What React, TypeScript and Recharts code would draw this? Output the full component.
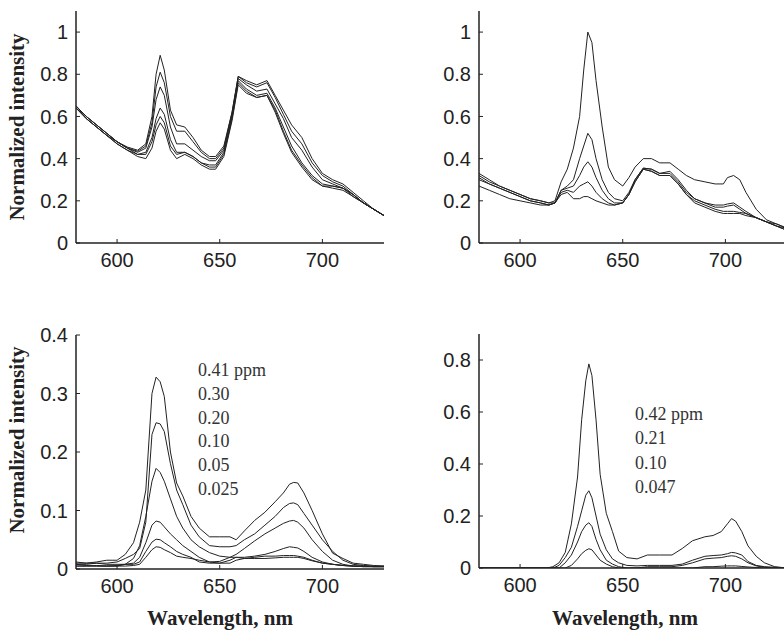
import React from "react";
import { LineChart, Line, XAxis, YAxis } from "recharts";

// wavelength grids (nm) for each panel
const WL_TL = [580, 585, 590, 595, 600, 605, 610, 614, 617, 619, 621, 623, 626, 629, 633, 637, 641, 645, 648, 652, 656, 659, 663, 668, 673, 677, 681, 685, 690, 695, 700, 705, 710, 715, 720, 725, 730];
const WL_TR = [580, 585, 590, 595, 600, 605, 610, 614, 617, 620, 623, 626, 629, 631, 633, 635, 637, 640, 643, 646, 650, 653, 656, 660, 664, 668, 673, 677, 681, 685, 690, 695, 699, 701, 704, 707, 710, 715, 720, 725, 730];
const WL_BL = [580, 585, 590, 595, 600, 604, 608, 611, 614, 617, 619, 621, 623, 626, 629, 632, 636, 640, 645, 650, 655, 658, 662, 667, 672, 677, 681, 684, 686, 688, 691, 695, 700, 705, 710, 715, 720, 725, 730];
const WL_BR = [580, 590, 600, 610, 613, 616, 619, 622, 625, 628, 630, 632, 633.5, 635, 637, 639, 642, 645, 648, 652, 657, 662, 668, 674, 679, 684, 690, 694, 698, 701, 703, 705, 708, 711, 715, 719, 724, 730];

// top-left spectra
const tl1 = [0.65, 0.6, 0.56, 0.52, 0.48, 0.455, 0.44, 0.47, 0.6, 0.8, 0.89, 0.82, 0.63, 0.56, 0.55, 0.5, 0.44, 0.41, 0.41, 0.46, 0.62, 0.79, 0.77, 0.75, 0.77, 0.7, 0.63, 0.56, 0.5, 0.4, 0.33, 0.3, 0.28, 0.24, 0.2, 0.16, 0.13];
const tl2 = [0.65, 0.6, 0.56, 0.52, 0.48, 0.45, 0.435, 0.46, 0.57, 0.74, 0.81, 0.76, 0.6, 0.53, 0.53, 0.48, 0.43, 0.4, 0.4, 0.45, 0.62, 0.79, 0.76, 0.74, 0.76, 0.69, 0.61, 0.53, 0.47, 0.38, 0.32, 0.29, 0.27, 0.23, 0.19, 0.16, 0.13];
const tl3 = [0.65, 0.6, 0.56, 0.52, 0.48, 0.45, 0.43, 0.45, 0.55, 0.68, 0.74, 0.7, 0.55, 0.47, 0.47, 0.44, 0.41, 0.39, 0.39, 0.44, 0.61, 0.78, 0.75, 0.72, 0.73, 0.66, 0.59, 0.5, 0.44, 0.36, 0.3, 0.28, 0.26, 0.23, 0.19, 0.16, 0.13];
const tl4 = [0.65, 0.59, 0.55, 0.51, 0.48, 0.45, 0.42, 0.43, 0.5, 0.59, 0.64, 0.61, 0.49, 0.43, 0.43, 0.41, 0.38, 0.37, 0.37, 0.43, 0.6, 0.77, 0.73, 0.7, 0.71, 0.64, 0.55, 0.46, 0.38, 0.32, 0.28, 0.27, 0.26, 0.23, 0.19, 0.16, 0.13];
const tl5 = [0.64, 0.59, 0.55, 0.51, 0.47, 0.44, 0.42, 0.42, 0.48, 0.56, 0.6, 0.57, 0.46, 0.42, 0.43, 0.41, 0.38, 0.36, 0.36, 0.42, 0.59, 0.76, 0.72, 0.69, 0.7, 0.63, 0.53, 0.44, 0.37, 0.31, 0.27, 0.27, 0.26, 0.22, 0.19, 0.16, 0.13];
const tl6 = [0.64, 0.59, 0.55, 0.51, 0.47, 0.44, 0.41, 0.4, 0.45, 0.53, 0.57, 0.54, 0.44, 0.4, 0.42, 0.4, 0.37, 0.35, 0.35, 0.41, 0.58, 0.75, 0.71, 0.69, 0.7, 0.62, 0.52, 0.43, 0.36, 0.3, 0.27, 0.26, 0.25, 0.22, 0.19, 0.16, 0.13];

// top-right spectra
const tr1 = [0.33, 0.3, 0.27, 0.25, 0.23, 0.21, 0.2, 0.19, 0.2, 0.29, 0.35, 0.45, 0.6, 0.82, 1.0, 0.95, 0.77, 0.55, 0.36, 0.3, 0.27, 0.31, 0.36, 0.4, 0.4, 0.38, 0.38, 0.35, 0.32, 0.3, 0.29, 0.28, 0.28, 0.31, 0.32, 0.3, 0.24, 0.16, 0.11, 0.09, 0.07];
const tr2 = [0.32, 0.29, 0.27, 0.25, 0.23, 0.21, 0.2, 0.19, 0.19, 0.25, 0.27, 0.3, 0.4, 0.46, 0.52, 0.49, 0.4, 0.3, 0.24, 0.21, 0.2, 0.24, 0.3, 0.355, 0.35, 0.33, 0.34, 0.3, 0.25, 0.21, 0.19, 0.18, 0.18, 0.185, 0.19, 0.17, 0.15, 0.12, 0.1, 0.09, 0.07];
const tr3 = [0.31, 0.28, 0.26, 0.24, 0.22, 0.2, 0.19, 0.18, 0.19, 0.25, 0.26, 0.27, 0.32, 0.36, 0.385, 0.36, 0.31, 0.25, 0.21, 0.19, 0.19, 0.23, 0.3, 0.355, 0.35, 0.33, 0.33, 0.29, 0.24, 0.21, 0.19, 0.17, 0.17, 0.175, 0.18, 0.16, 0.14, 0.12, 0.1, 0.08, 0.06];
const tr4 = [0.3, 0.28, 0.26, 0.24, 0.22, 0.2, 0.19, 0.18, 0.19, 0.24, 0.25, 0.24, 0.27, 0.28, 0.29, 0.27, 0.24, 0.21, 0.19, 0.18, 0.19, 0.23, 0.29, 0.35, 0.34, 0.32, 0.32, 0.28, 0.23, 0.2, 0.18, 0.16, 0.15, 0.15, 0.15, 0.145, 0.14, 0.12, 0.1, 0.08, 0.06];
const tr5 = [0.27, 0.25, 0.23, 0.21, 0.2, 0.19, 0.18, 0.18, 0.19, 0.23, 0.24, 0.21, 0.21, 0.22, 0.22, 0.21, 0.2, 0.19, 0.18, 0.18, 0.19, 0.23, 0.29, 0.35, 0.34, 0.32, 0.32, 0.28, 0.23, 0.19, 0.17, 0.15, 0.14, 0.14, 0.14, 0.14, 0.13, 0.12, 0.1, 0.08, 0.07];

// bottom-left spectra
const bl1 = [0.01, 0.01, 0.012, 0.015, 0.015, 0.025, 0.045, 0.08, 0.135, 0.3, 0.328, 0.32, 0.295, 0.2, 0.147, 0.125, 0.09, 0.07, 0.055, 0.055, 0.055, 0.05, 0.065, 0.083, 0.097, 0.115, 0.13, 0.145, 0.148, 0.147, 0.13, 0.1, 0.06, 0.027, 0.018, 0.01, 0.008, 0.006, 0.005];
const bl2 = [0.008, 0.008, 0.01, 0.01, 0.012, 0.018, 0.025, 0.035, 0.08, 0.23, 0.25, 0.248, 0.235, 0.18, 0.135, 0.11, 0.075, 0.055, 0.04, 0.038, 0.038, 0.04, 0.05, 0.06, 0.075, 0.09, 0.105, 0.112, 0.113, 0.11, 0.095, 0.075, 0.05, 0.03, 0.015, 0.008, 0.006, 0.005, 0.005];
const bl3 = [0.005, 0.005, 0.006, 0.005, 0.005, 0.008, 0.018, 0.04, 0.09, 0.15, 0.172, 0.165, 0.15, 0.12, 0.09, 0.07, 0.05, 0.038, 0.028, 0.022, 0.02, 0.025, 0.035, 0.048, 0.06, 0.07, 0.078, 0.082, 0.083, 0.08, 0.07, 0.05, 0.03, 0.015, 0.008, 0.005, 0.005, 0.004, 0.004];
const bl4 = [0.005, 0.005, 0.005, 0.005, 0.006, 0.008, 0.01, 0.02, 0.045, 0.075, 0.082, 0.08, 0.072, 0.06, 0.05, 0.04, 0.03, 0.02, 0.012, 0.01, 0.015, 0.02, 0.02, 0.022, 0.025, 0.03, 0.035, 0.038, 0.037, 0.036, 0.03, 0.02, 0.012, 0.008, 0.006, 0.005, 0.005, 0.004, 0.004];
const bl5 = [0.012, 0.01, 0.01, 0.008, 0.008, 0.008, 0.008, 0.012, 0.03, 0.046, 0.051, 0.05, 0.045, 0.038, 0.03, 0.025, 0.02, 0.012, 0.01, 0.01, 0.01, 0.015, 0.018, 0.02, 0.022, 0.022, 0.023, 0.023, 0.023, 0.022, 0.02, 0.015, 0.01, 0.008, 0.006, 0.005, 0.004, 0.004, 0.004];
const bl6 = [0.008, 0.006, 0.005, 0.005, 0.005, 0.005, 0.006, 0.008, 0.02, 0.033, 0.038, 0.037, 0.033, 0.028, 0.022, 0.02, 0.018, 0.015, 0.012, 0.013, 0.02, 0.02, 0.018, 0.018, 0.018, 0.019, 0.02, 0.02, 0.02, 0.02, 0.018, 0.014, 0.01, 0.008, 0.006, 0.005, 0.004, 0.004, 0.004];

// bottom-right spectra
const br1 = [0, 0, 0, 0, 0, 0.005, 0.02, 0.06, 0.17, 0.35, 0.57, 0.72, 0.785, 0.74, 0.57, 0.36, 0.21, 0.14, 0.065, 0.04, 0.035, 0.05, 0.05, 0.05, 0.075, 0.105, 0.12, 0.125, 0.14, 0.17, 0.19, 0.18, 0.14, 0.085, 0.045, 0.02, 0.005, 0];
const br2 = [0, 0, 0, 0, 0, 0, 0.01, 0.04, 0.08, 0.16, 0.22, 0.28, 0.297, 0.27, 0.2, 0.13, 0.07, 0.035, 0.02, 0.01, 0.008, 0.01, 0.01, 0.01, 0.015, 0.03, 0.045, 0.048, 0.05, 0.055, 0.06, 0.058, 0.05, 0.025, 0.01, 0.005, 0.003, 0];
const br3 = [0, 0, 0, 0, 0, 0, 0, 0.02, 0.05, 0.1, 0.14, 0.165, 0.174, 0.16, 0.11, 0.07, 0.03, 0.015, 0.005, 0, 0, 0.005, 0.005, 0.005, 0.01, 0.02, 0.035, 0.038, 0.04, 0.045, 0.047, 0.045, 0.035, 0.02, 0.008, 0.003, 0, 0];
const br4 = [0, 0, 0, 0, 0, 0, 0, 0, 0.01, 0.035, 0.055, 0.068, 0.074, 0.07, 0.05, 0.03, 0.015, 0.005, 0, 0, 0, 0, 0, 0, 0, 0, 0.005, 0.005, 0.007, 0.008, 0.008, 0.008, 0.006, 0.004, 0.002, 0, 0, 0];

const LABELS_BL = ["0.41 ppm", "0.30", "0.20", "0.10", "0.05", "0.025"];
const LABELS_BR = ["0.42 ppm", "0.21", "0.10", "0.047"];

const X_TICKS = [600, 650, 700];
const Y_TICKS_TOP = [0, 0.2, 0.4, 0.6, 0.8, 1];
const Y_TICKS_BL = [0, 0.1, 0.2, 0.3, 0.4];
const Y_TICKS_BR = [0, 0.2, 0.4, 0.6, 0.8];

const toRows = (wl: number[], series: number[][]) =>
  wl.map((w, i) => {
    const row: Record<string, number> = { w };
    series.forEach((s, k) => {
      row["s" + k] = s[i];
    });
    return row;
  });

const tickStyle = { fill: "#222", fontSize: 20, fontFamily: "Liberation Sans, Arial, sans-serif" };
const axisStyle = { stroke: "#222", strokeWidth: 1.5 };

type PanelProps = {
  left: number;
  top: number;
  width: number;
  height: number;
  margin: { top: number; right: number; bottom: number; left: number };
  wl: number[];
  series: number[][];
  yDomain: [number, number];
  yTicks: number[];
};

const Panel = ({ left, top, width, height, margin, wl, series, yDomain, yTicks }: PanelProps) => (
  <div style={{ position: "absolute", left, top }}>
    <LineChart width={width} height={height} data={toRows(wl, series)} margin={margin}>
      <XAxis
        type="number"
        dataKey="w"
        domain={[580, 730]}
        ticks={X_TICKS}
        interval={0}
        allowDataOverflow
        height={30}
        tick={tickStyle}
        tickSize={-4}
        tickMargin={14}
        axisLine={axisStyle}
        tickLine={{ stroke: "#222" }}
      />
      <YAxis
        type="number"
        domain={yDomain}
        ticks={yTicks}
        interval={0}
        allowDataOverflow
        width={60}
        tick={tickStyle}
        tickSize={-4}
        tickMargin={12}
        axisLine={axisStyle}
        tickLine={{ stroke: "#222" }}
      />
      {series.map((_, k) => (
        <Line
          key={k}
          dataKey={"s" + k}
          type="linear"
          stroke="#222"
          strokeWidth={1}
          dot={false}
          isAnimationActive={false}
        />
      ))}
    </LineChart>
  </div>
);

const serif = "Liberation Serif, Times New Roman, serif";

const App = () => {
  return (
    <div
      style={{
        position: "absolute",
        left: 0,
        top: 0,
        width: 784,
        height: 630,
        overflow: "hidden",
        background: "#fff",
      }}
    >
      <Panel
        left={0}
        top={0}
        width={392}
        height={300}
        margin={{ top: 11, right: 8, bottom: 27, left: 16 }}
        wl={WL_TL}
        series={[tl1, tl2, tl3, tl4, tl5, tl6]}
        yDomain={[0, 1.1]}
        yTicks={Y_TICKS_TOP}
      />
      <Panel
        left={392}
        top={0}
        width={400}
        height={300}
        margin={{ top: 11, right: 5, bottom: 27, left: 27 }}
        wl={WL_TR}
        series={[tr1, tr2, tr3, tr4, tr5]}
        yDomain={[0, 1.1]}
        yTicks={Y_TICKS_TOP}
      />
      <Panel
        left={0}
        top={300}
        width={392}
        height={330}
        margin={{ top: 35, right: 8, bottom: 31, left: 16 }}
        wl={WL_BL}
        series={[bl1, bl2, bl3, bl4, bl5, bl6]}
        yDomain={[0, 0.4]}
        yTicks={Y_TICKS_BL}
      />
      <Panel
        left={392}
        top={300}
        width={400}
        height={330}
        margin={{ top: 34, right: 5, bottom: 32, left: 27 }}
        wl={WL_BR}
        series={[br1, br2, br3, br4]}
        yDomain={[0, 0.9]}
        yTicks={Y_TICKS_BR}
      />
      <svg
        width={784}
        height={630}
        style={{ position: "absolute", left: 0, top: 0, pointerEvents: "none" }}
      >
        <text
          transform="translate(24,127) rotate(-90)"
          textAnchor="middle"
          fontFamily={serif}
          fontWeight="bold"
          fontSize={21}
          fill="#222"
        >
          Normalized intensity
        </text>
        <text
          transform="translate(24,440) rotate(-90)"
          textAnchor="middle"
          fontFamily={serif}
          fontWeight="bold"
          fontSize={21}
          fill="#222"
        >
          Normalized intensity
        </text>
        <text x={220} y={625} textAnchor="middle" fontFamily={serif} fontWeight="bold" fontSize={21} fill="#222">
          Wavelength, nm
        </text>
        <text x={625} y={625} textAnchor="middle" fontFamily={serif} fontWeight="bold" fontSize={21} fill="#222">
          Wavelength, nm
        </text>
        {LABELS_BL.map((t, i) => (
          <text key={t} x={198} y={376 + i * 23.8} fontFamily={serif} fontSize={18} fill="#333">
            {t}
          </text>
        ))}
        {LABELS_BR.map((t, i) => (
          <text key={t} x={635} y={420 + i * 24.4} fontFamily={serif} fontSize={18} fill="#333">
            {t}
          </text>
        ))}
      </svg>
    </div>
  );
};

export default App;
